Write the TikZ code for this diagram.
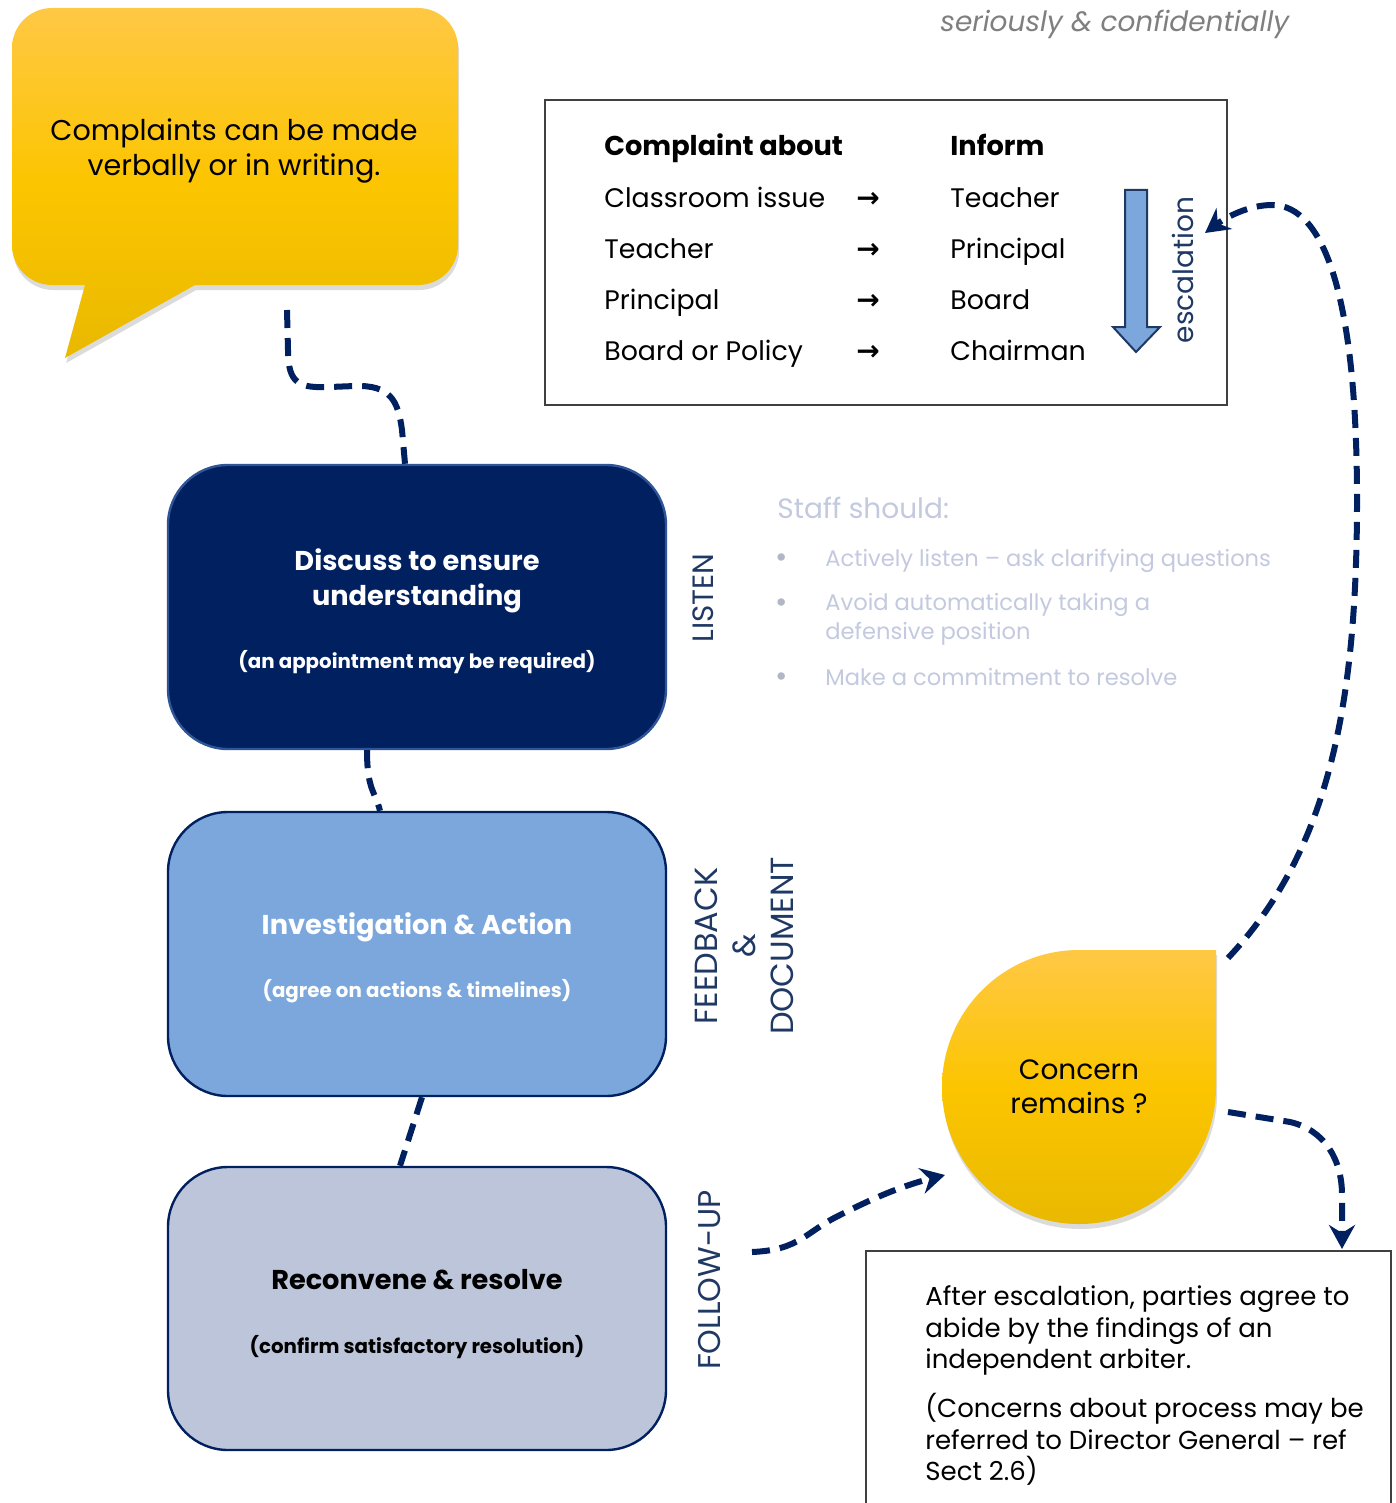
\documentclass[tikz,border=0pt]{standalone}
\usepackage{fontspec}
\setmainfont{Poppins}
\newfontfamily\dejavu{DejaVu Sans}
\usetikzlibrary{arrows.meta,shadows,calc}
\definecolor{navy}{HTML}{002060}
\definecolor{labnavy}{HTML}{1F3864}
\definecolor{midblue}{HTML}{7BA7DC}
\definecolor{paleblue}{HTML}{BDC5DB}
\definecolor{bborder}{HTML}{2F5597}
\definecolor{staffgray}{HTML}{C3CADF}
\definecolor{yeltop}{HTML}{FFC845}
\definecolor{yelmid}{HTML}{FCC500}
\definecolor{yelbot}{HTML}{E9B900}
\definecolor{graytxt}{HTML}{7F7F7F}
\tikzset{
  flow/.style={draw=navy, line width=3pt, dash pattern=on 9pt off 5pt},
  arrowend/.style={-{Stealth[length=12pt,width=13pt,inset=4pt]}},
  stepbox/.style={rounded corners=30pt, minimum width=249pt, minimum height=142pt, line width=1.2pt, inner sep=0pt},
  txt/.style={inner sep=0pt, anchor=base west},
  ctxt/.style={inner sep=0pt, anchor=base},
  sidelab/.style={rotate=90, text=labnavy, inner sep=0pt, font=\fontsize{16}{19}\selectfont, align=center},
  yshade/.style={drop shadow={opacity=0.28,shadow xshift=0.6pt,shadow yshift=-2.5pt}, top color=yeltop, bottom color=yelbot, middle color=yelmid},
  bigtxt/.style={font=\fontsize{14.3}{17}\selectfont},
  tabtxt/.style={txt, font=\fontsize{13.4}{16}\selectfont},
  titletxt/.style={ctxt, font=\bfseries\fontsize{13.6}{16}\selectfont},
  subtxt/.style={ctxt, font=\bfseries\fontsize{9.9}{12}\selectfont},
  stafftxt/.style={txt, text=staffgray, font=\fontsize{11.3}{14}\selectfont},
  arbtxt/.style={txt, font=\fontsize{13}{16}\selectfont},
}
\begin{document}
\begin{tikzpicture}[x=0.5pt,y=-0.5pt]
\useasboundingbox (0,0) rectangle (1396,1503);
\fill[white] (0,0) rectangle (1396,1503);

% top-right text
\node[txt, text=graytxt, font=\itshape\fontsize{14}{17}\selectfont] (serious) at (940,32) {seriously \& confidentially};

% speech bubble
\path[yshade] (52,8) -- (418,8) arc[start angle=-90,end angle=0,radius=40] -- (458,245) arc[start angle=0,end angle=90,radius=40] -- (195,285) -- (65,358) -- (85,285) -- (52,285) arc[start angle=90,end angle=180,radius=40] -- (12,48) arc[start angle=180,end angle=270,radius=40] -- cycle;
\node[ctxt, bigtxt] (bub1) at (234,141) {Complaints can be made};
\node[ctxt, bigtxt] (bub2) at (234,176) {verbally or in writing.};

% table
\draw[black!75, line width=0.7pt] (545,100) rectangle (1227,405);
\node[tabtxt, font=\bfseries\fontsize{13.6}{16}\selectfont] (hA) at (604,156) {Complaint about};
\node[tabtxt, font=\bfseries\fontsize{13.6}{16}\selectfont] (hB) at (950,156) {Inform};
\node[tabtxt] (a1) at (604,207) {Classroom issue};
\node[tabtxt] (a2) at (604,258) {Teacher};
\node[tabtxt] (a3) at (604,309) {Principal};
\node[tabtxt] (a4) at (604,360) {Board or Policy};
\foreach \yy/\nm in {207/r1,258/r2,309/r3,360/r4}{
  \node[tabtxt, font=\dejavu\bfseries\fontsize{14}{16}\selectfont] (\nm) at (856,\yy) {→};
}
\node[tabtxt] (b1) at (950,207) {Teacher};
\node[tabtxt] (b2) at (950,258) {Principal};
\node[tabtxt] (b3) at (950,309) {Board};
\node[tabtxt] (b4) at (950,360) {Chairman};
\filldraw[fill=midblue, draw=labnavy, line width=1pt] (1125,190) -- (1147,190) -- (1147,327) -- (1160,327) -- (1136,352) -- (1113,327) -- (1125,327) -- cycle;
\node[sidelab, font=\fontsize{14}{17}\selectfont] (esc) at (1183,270) {escalation};

% process boxes
\node[stepbox, fill=navy, draw=bborder] (box1) at (417,607) {};
\node[stepbox, fill=midblue, draw=navy] (box2) at (417,954) {};
\node[stepbox, fill=paleblue, draw=navy, minimum height=141.5pt] (box3) at (417,1308.5) {};
\node[titletxt, text=white] (b1t1) at (417,570) {Discuss to ensure};
\node[titletxt, text=white] (b1t2) at (417,605) {understanding};
\node[subtxt, text=white] (b1s) at (417,668) {(an appointment may be required)};
\node[titletxt, text=white] (b2t) at (417,934) {Investigation \& Action};
\node[subtxt, text=white] (b2s) at (417,997) {(agree on actions \& timelines)};
\node[titletxt, text=black] (b3t) at (417,1289) {Reconvene \& resolve};
\node[subtxt, text=black] (b3s) at (417,1353) {(confirm satisfactory resolution)};

% side labels
\node[sidelab, font=\fontsize{14.7}{17}\selectfont] (listen) at (703,598) {LISTEN};
\node[sidelab] (fbdoc) at (744,946) {FEEDBACK\\\&\\DOCUMENT};
\node[sidelab, font=\fontsize{15.7}{17}\selectfont] (follow) at (710,1280) {FOLLOW-UP};

% staff should
\node[txt, text=staffgray, font=\fontsize{14}{17}\selectfont] (staff) at (777,518) {Staff should:};
\foreach \yy/\nm in {561/d1,606/d2,680/d3}{
  \node[inner sep=0pt, text=staffgray!75!gray, font=\fontsize{15}{16}\selectfont] (\nm) at (782,\yy) {•};
}
\node[stafftxt] (s1) at (825,566) {Actively listen – ask clarifying questions};
\node[stafftxt] (s2a) at (825,610) {Avoid automatically taking a};
\node[stafftxt] (s2b) at (825,639) {defensive position};
\node[stafftxt] (s3) at (825,685) {Make a commitment to resolve};

% concern teardrop
\path[yshade] (1079,950) -- (1216,950) -- (1216,1087) arc[start angle=0,end angle=270,radius=137] -- cycle;
\node[ctxt, bigtxt, font=\fontsize{14}{17}\selectfont] (con1) at (1079,1079) {Concern};
\node[ctxt, bigtxt, font=\fontsize{14}{17}\selectfont] (con2) at (1079,1113) {remains ?};

% arbiter box
\draw[black!75, line width=0.7pt] (866,1251) rectangle (1391,1540);
\node[arbtxt] (t1) at (925,1305) {After escalation, parties agree to};
\node[arbtxt] (t2) at (925,1337) {abide by the findings of an};
\node[arbtxt] (t3) at (925,1368) {independent arbiter.};
\node[arbtxt] (t4) at (925,1417) {(Concerns about process may be};
\node[arbtxt] (t5) at (925,1449) {referred to Director General – ref};
\node[arbtxt] (t6) at (925,1480) {Sect 2.6)};

% connectors
\coordinate (bubtail) at (287,310);
\draw[flow] (bubtail) -- (288,350) .. controls (288,385) and (300,388) .. (330,387) -- (355,386) .. controls (390,385) and (398,400) .. (402,430) -- ([xshift=-6pt]box1.north);
\draw[flow] ([xshift=-25pt]box1.south) .. controls +(0,40) and +(-5,-20) .. ([xshift=-18.5pt]box2.north);
\draw[flow] ([xshift=2.5pt]box2.south) -- ([xshift=-8.5pt]box3.north);

\coordinate (fustart) at (752,1252);
\coordinate (conleft) at (945,1175);
\draw[flow, arrowend] (fustart) .. controls (800,1250) and (805,1232) .. (840,1215) .. controls (875,1197) and (905,1185) .. (conleft);

\coordinate (conright) at (1228,1112);
\coordinate (arbtop) at (1342,1249);
\draw[flow, arrowend] (conright) -- (1290,1122) .. controls (1325,1130) and (1342,1160) .. (1342,1195) -- (arbtop);

\coordinate (contop) at (1228,958);
\coordinate (tabright) at (1205,233);
\draw[flow, arrowend] (contop) .. controls (1330,850) and (1357,700) .. (1357,500) .. controls (1357,300) and (1325,205) .. (1272,205) .. controls (1248,205) and (1225,218) .. (tabright);
\end{tikzpicture}
\end{document}
